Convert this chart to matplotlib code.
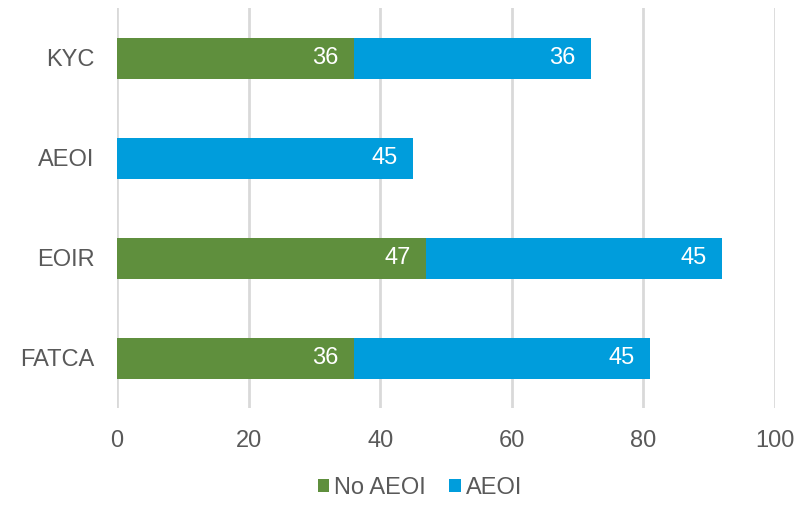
import numpy as np
import matplotlib.pyplot as plt

plt.rcParams['font.family'] = ['Liberation Sans', 'DejaVu Sans']

# categories listed top to bottom
categories = ['KYC', 'AEOI', 'EOIR', 'FATCA']
no_aeoi = [36, 0, 47, 36]
aeoi = [36, 45, 45, 45]

green = '#5F8F3D'
blue = '#009DDC'
grey_text = '#595959'

fig = plt.figure(figsize=(8.01, 5.05), dpi=100)
ax = fig.add_axes([117 / 801, 97 / 505, 658 / 801, 400 / 505])

y = np.arange(len(categories))
ax.barh(y, no_aeoi, height=0.41, color=green, label='No AEOI')
ax.barh(y, aeoi, left=no_aeoi, height=0.41, color=blue, label='AEOI')

# value labels sit inside the right end of each segment
for i in range(len(categories)):
    if no_aeoi[i] > 0:
        ax.text(no_aeoi[i] - 2.3, y[i], str(no_aeoi[i]), color='white',
                fontsize=17, ha='right', va='center')
    end = no_aeoi[i] + aeoi[i]
    ax.text(end - 2.3, y[i], str(aeoi[i]), color='white',
            fontsize=17, ha='right', va='center')

ax.set_xlim(0, 100)
ax.set_ylim(3.5, -0.5)
ax.set_xticks([0, 20, 40, 60, 80, 100])
ax.set_yticks(y)
ax.set_yticklabels(categories)
ax.tick_params(length=0, labelsize=17, labelcolor=grey_text)
ax.tick_params(axis='x', pad=16)
ax.tick_params(axis='y', pad=16)

ax.grid(axis='x', color='#D9D9D9', linewidth=2)
ax.set_axisbelow(True)
for s in ax.spines.values():
    s.set_visible(False)

ax.legend(loc='center', bbox_to_anchor=(420 / 801, 17 / 505),
          bbox_transform=fig.transFigure, ncol=2, frameon=False,
          fontsize=17, labelcolor=grey_text, handlelength=0.5,
          handleheight=0.5, handletextpad=0.2, columnspacing=1.0)

plt.savefig('out.png', dpi=100)
